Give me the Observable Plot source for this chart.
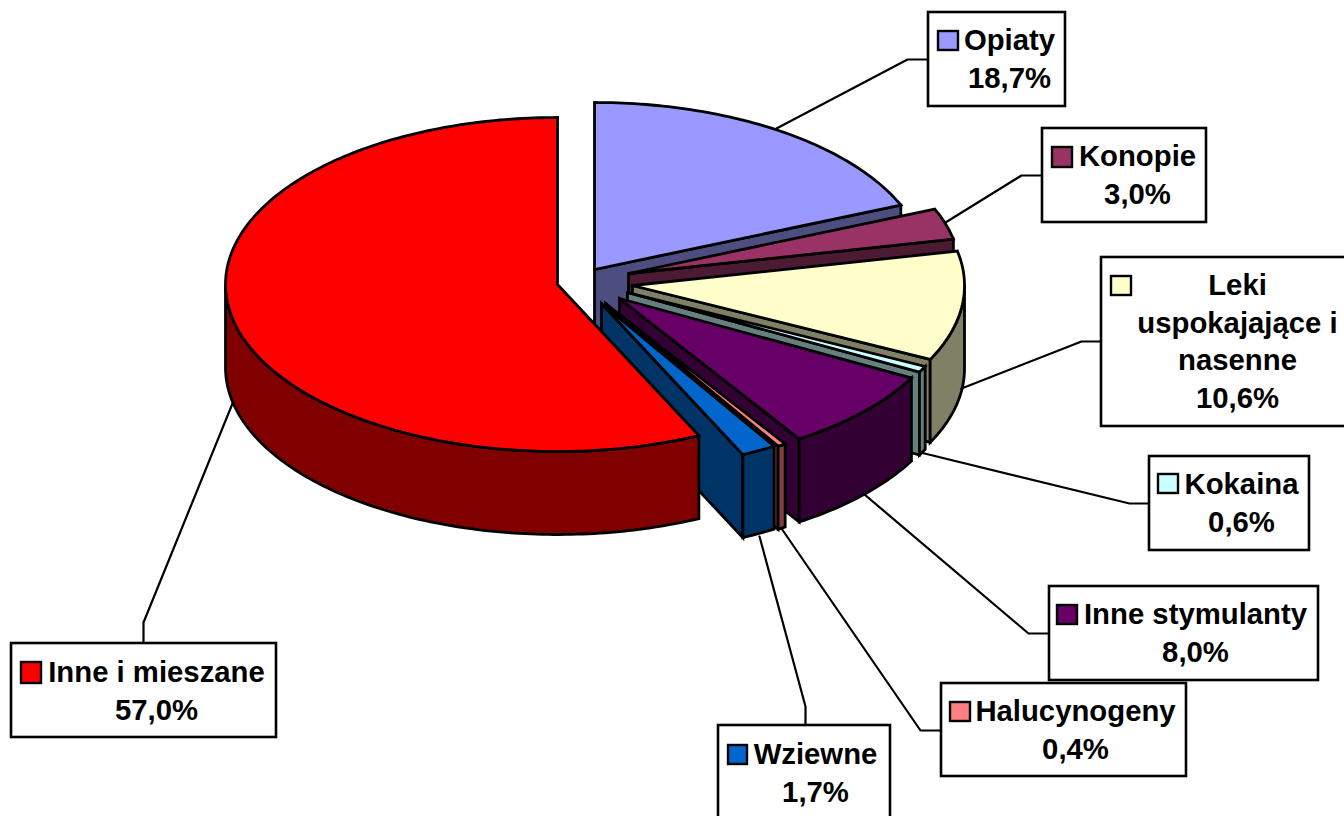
<!DOCTYPE html>
<html>
<head>
<meta charset="utf-8">
<style>html,body{margin:0;padding:0;background:#fff;overflow:hidden}</style>
<script src="https://cdn.jsdelivr.net/npm/d3@7"></script>
<script src="https://cdn.jsdelivr.net/npm/@observablehq/plot@0.6"></script>
</head>
<body>
<div id="chart"></div>
<script>
// Data
const categories = ["Opiaty","Konopie","Leki uspokajające i nasenne","Kokaina","Inne stymulanty","Halucynogeny","Wziewne","Inne i mieszane"];
const shares = [18.7,3.0,10.6,0.6,8.0,0.4,1.7,57.0];
const topColors = ["#9999FF","#993366","#FFFFCC","#CCFFFF","#660066","#FF8080","#0066CC","#FF0000"];
const sideColors = ["#4D4D80","#4D1A33","#808066","#668080","#330033","#804040","#003366","#800000"];

// Pie layout (3-D projection and explosion of each slice)
const radiusX = 332, radiusY = 167, depth = 83;
const apexX = [594,628,632,627,619,605,601,557];
const apexY = [269,273,285,292,298,303,303,284];

// Label layout
const boxes = [[928,1065,12,106],[1042,1206,128,222],[1101,1350,257,426],[1149,1309,456,550],[1049,1318,586,680],[941,1186,683,776],[718,890,725,824],[11,276,643,737]];
const swatches = [[938,958,31,50],[1052,1072,147,167],[1111,1131,276,295],[1158,1178,474,493],[1057,1077,605,624],[950,970,702,721],[728,747,745,764],[21,41,662,683]];
const nameLines = [["Opiaty"],["Konopie"],["Leki","uspokajające i","nasenne"],["Kokaina"],["Inne stymulanty"],["Halucynogeny"],["Wziewne"],["Inne i mieszane"]];
const textCenterX = [1009,1137,1237,1241,1195,1075,815,156];
const textFirstY = [40,156,285,484,614,711,754,672];
const lineStep = 37.7;
const leaders = [
  [[776,128],[907,59],[928,59]],
  [[945,222],[1021,175],[1042,175]],
  [[961,388],[1081,341],[1101,341]],
  [[920,452],[1129,503],[1149,503]],
  [[864,494],[1028,633],[1049,633]],
  [[781,528],[920,730],[941,730]],
  [[759,536],[805,706],[805,725]],
  [[232,403],[143,622],[143,643]]
];

// Geometry derived from the shares
const rad = a => a * Math.PI / 180;
let acc = 0;
const slices = shares.map((v,i) => {
  const t0 = acc * 3.6; acc += v; const t1 = acc * 3.6;
  return {i, t0, t1, ax: apexX[i], ay: apexY[i]};
});
const rim = (s,t,dz=0) => ({x: s.ax + radiusX*Math.sin(rad(t)), y: s.ay - radiusY*Math.cos(rad(t)) + dz});
const arc = (s,a,b,dz=0) => {
  const out = [], n = Math.max(2, Math.ceil(Math.abs(b-a)));
  for (let k=0;k<=n;k++) out.push(rim(s, a+(b-a)*k/n, dz));
  return out;
};
const faceMark = (pts, fill) => Plot.line(pts, {x:"x", y:"y", curve:"linear-closed", fill, stroke:"#000", strokeWidth:2.8, strokeLinejoin:"miter", strokeMiterlimit:4});

const pieMarks = [];
for (const s of slices) {
  const side = sideColors[s.i], top = topColors[s.i];
  if (s.t1 <= 180) {
    pieMarks.push(faceMark([{x:s.ax,y:s.ay}, rim(s,s.t1), rim(s,s.t1,depth), {x:s.ax,y:s.ay+depth}], side));
  }
  const a = Math.max(s.t0,90), b = Math.min(s.t1,270);
  if (b > a) {
    pieMarks.push(faceMark([...arc(s,a,b), ...arc(s,b,a,depth)], side));
  }
  pieMarks.push(faceMark([{x:s.ax,y:s.ay}, ...arc(s,s.t0,s.t1)], top));
}

const leaderRows = leaders.flatMap((l,i) => l.map(p => ({i, x:p[0], y:p[1]})));
const boxRows = boxes.map(b => ({x1:b[0],x2:b[1],y1:b[2],y2:b[3]}));
const swatchRows = swatches.map((b,i) => ({x1:b[0],x2:b[1],y1:b[2],y2:b[3],fill:topColors[i]}));
const fmt = v => v.toFixed(1).replace(".",",") + "%";
const textRows = nameLines.flatMap((lines,i) => [...lines, fmt(shares[i])].map((t,k) => ({
  text:t, x:textCenterX[i], y:textFirstY[i] + k*lineStep
})));

const chart = Plot.plot({
  width:1344, height:816, margin:0,
  style:{background:"#fff"},
  x:{domain:[0,1344], range:[0,1344], axis:null},
  y:{domain:[0,816], range:[0,816], axis:null},
  fill:{type:"identity"},
  marks:[
    ...pieMarks,
    Plot.line(leaderRows, {x:"x", y:"y", z:"i", stroke:"#000", strokeWidth:2.2}),
    Plot.rect(boxRows, {x1:"x1", x2:"x2", y1:"y1", y2:"y2", fill:"#fff", stroke:"#000", strokeWidth:2.6}),
    Plot.rect(swatchRows, {x1:"x1", x2:"x2", y1:"y1", y2:"y2", fill:"fill", stroke:"#000", strokeWidth:2.4}),
    Plot.text(textRows, {x:"x", y:"y", text:"text", textAnchor:"middle", lineAnchor:"middle", fontFamily:"Liberation Sans", fontWeight:"bold", fontSize:29.3, fill:"#000"})
  ]
});
document.getElementById("chart").appendChild(chart);
</script>
</body>
</html>
